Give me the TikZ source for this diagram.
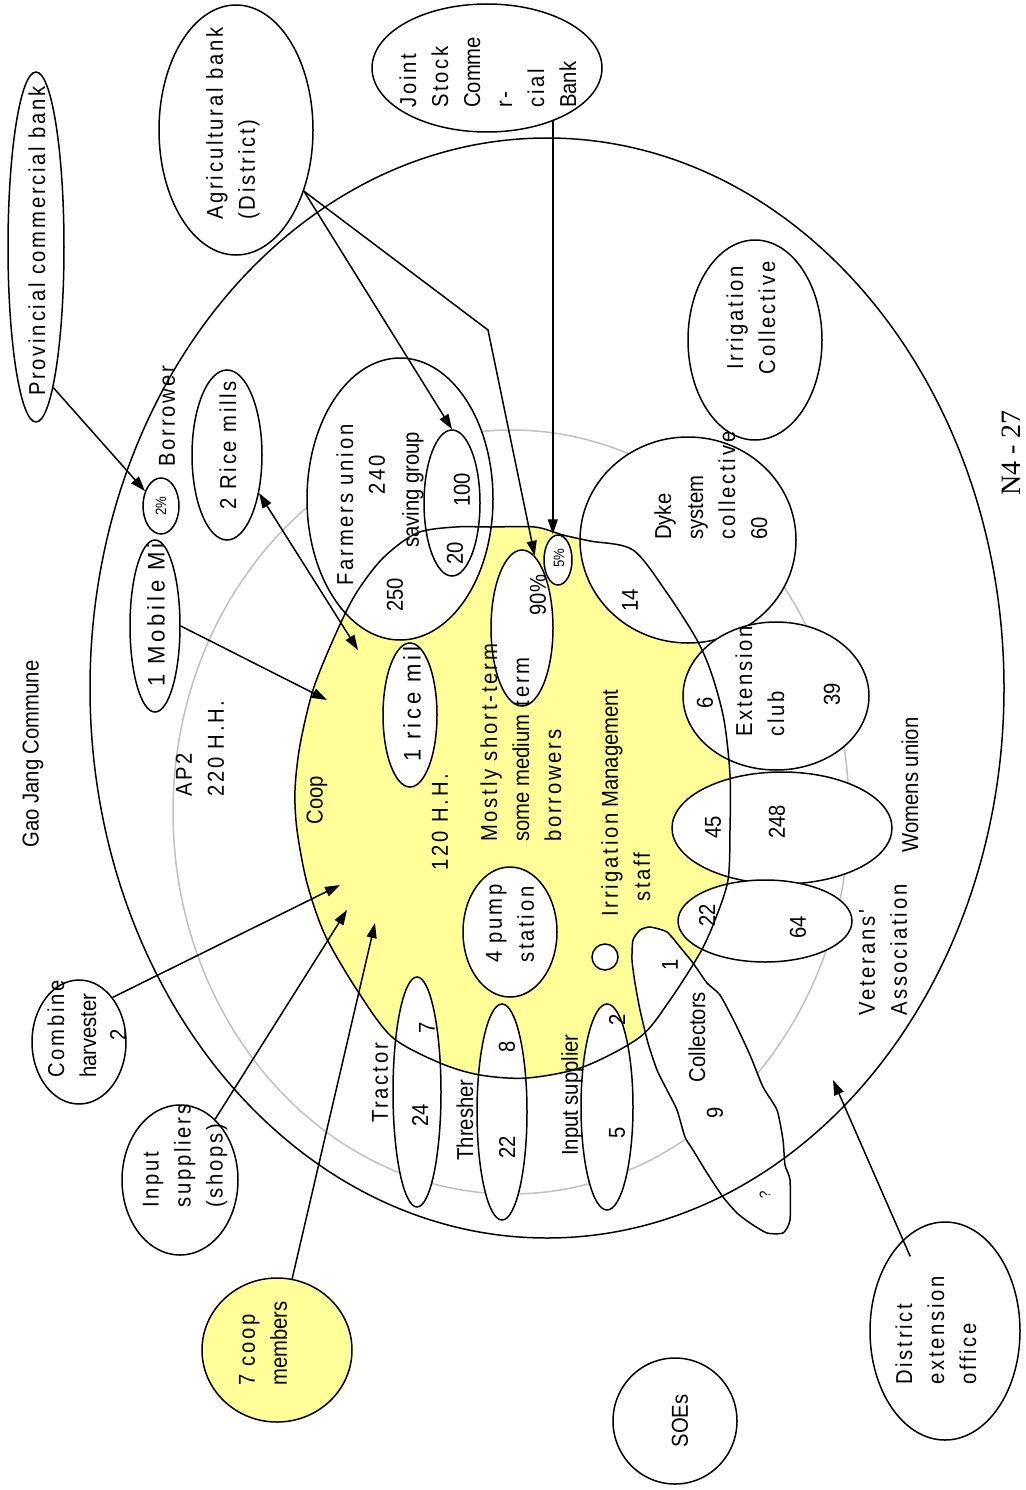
\documentclass[tikz,border=0pt]{standalone}
\usepackage{fontspec}
\setmainfont{Liberation Sans}[FakeStretch=0.88]
\newfontfamily\spacedf{Liberation Sans}[FakeStretch=0.88, LetterSpace=12]
\newfontfamily\widef{Liberation Sans}[FakeStretch=0.92, LetterSpace=16]
\newfontfamily\plainf{Liberation Sans}[FakeStretch=0.88]
\newfontfamily\serift{Liberation Serif}
\usetikzlibrary{arrows.meta,shapes.geometric,calc}
\definecolor{coopyellow}{RGB}{255,255,153}
\definecolor{apgray}{RGB}{192,192,192}

\tikzset{
  ell/.style={ellipse, draw, line width=1.5pt, fill=white, inner sep=0pt},
  arr/.style={line width=1.5pt, -{Triangle[length=15pt,width=10pt]}},
  dbl/.style={line width=1.5pt, {Triangle[length=15pt,width=10pt]}-{Triangle[length=15pt,width=10pt]}},
  txt/.style={rotate=90, inner sep=0pt, font=\fontsize{23}{32}\selectfont\plainf},
  stxt/.style={rotate=90, inner sep=0pt, font=\fontsize{23}{32}\selectfont\spacedf},
  wtxt/.style={rotate=90, inner sep=0pt, font=\fontsize{24}{32}\selectfont\widef},
  small/.style={rotate=90, inner sep=0pt, font=\fontsize{15}{17}\selectfont\plainf},
}

% outline of the cooperative area
\def\coopcoords{(455,527) (490,527) (535,527) (563,535) (590,541) (633,550)
  (667,593) (697,640) (712,675) (724,720) (730,775) (730,830) (728,880)
  (715,920) (700,953) (670,1000) (640,1037) (583,1067) (527,1078) (480,1075)
  (440,1063) (392,1037) (357,990) (325,935) (307,883) (297,830) (295,790)
  (300,745) (313,690) (333,640) (355,595) (383,558) (417,533)}

\begin{document}
\begin{tikzpicture}[x=1pt,y=-1pt]
\useasboundingbox (0,0) rectangle (1025,1490);

% AP2 boundary
\draw[apgray, line width=1.5pt] (511,812) ellipse [x radius=338, y radius=382];

% cooperative area (fill first, outline later)
\fill[coopyellow] plot[smooth cycle, tension=0.5] coordinates {\coopcoords};

% groups inside the commune
\node[ell, minimum width=134pt, minimum height=200pt] (ic) at (755,340) {};
\node[ell, minimum width=186pt, minimum height=282pt] (fu) at (400,499) {};
\node[ell, minimum width=56pt, minimum height=146pt] (sg) at (452,503) {};
\node[ell, minimum width=54pt, minimum height=144pt] (rim) at (410,715) {};
\node[ell, minimum width=62pt, minimum height=156pt] (ninety) at (522,628) {};
\node[ell, minimum width=28pt, minimum height=50pt] (fivep) at (558,560) {};
\node[ell, minimum width=216pt, minimum height=206pt] (dyke) at (688,540) {};
\node[ell, minimum width=186pt, minimum height=148pt] (ext) at (776,696) {};
\node[ell, minimum width=220pt, minimum height=112pt] (wu) at (782,828) {};
\node[ell, minimum width=174pt, minimum height=82pt] (va) at (765,921) {};
\node[ell, minimum width=94pt, minimum height=130pt] (pump) at (510,932) {};
\node[ell, minimum width=26pt, minimum height=26pt] (dot) at (605,957) {};
\node[ell, minimum width=48pt, minimum height=230pt] (tr) at (417,1092) {};
\node[ell, minimum width=50pt, minimum height=216pt] (th) at (502,1112) {};
\node[ell, minimum width=52pt, minimum height=206pt] (isp) at (607,1107) {};
\node[ell, minimum width=70pt, minimum height=170pt] (rm) at (227,455) {};
\node[ell, minimum width=50pt, minimum height=172pt] (mm) at (155,626) {};

% collectors
\draw[line width=1.5pt, fill=white] plot[smooth cycle, tension=0.35] coordinates {
  (640,930) (650,927) (667,932) (680,947) (693,963) (707,983) (720,995)
  (735,1023) (750,1055) (763,1087) (777,1110) (783,1140) (785,1165)
  (790,1180) (790,1220) (783,1233) (767,1233) (750,1223) (737,1213)
  (723,1197) (707,1173) (693,1150) (685,1137) (677,1110) (667,1090)
  (657,1070) (648,1043) (640,1010) (635,983) (632,960) (633,940)};

% mill labels cut by their ellipses
\begin{scope}
  \clip (155,626) ellipse [x radius=25, y radius=86];
  \node[wtxt, anchor=west] (tMm) at (156,687) {1 Mobile Mill};
\end{scope}
\begin{scope}
  \clip (410,715) ellipse [x radius=27, y radius=72];
  \node[wtxt, anchor=west] (tRim) at (412,762) {1 rice mill};
\end{scope}
\node[ell, minimum width=36pt, minimum height=56pt] (pct) at (161,506) {};

% cooperative outline
\draw[line width=1.5pt] plot[smooth cycle, tension=0.5] coordinates {\coopcoords};

% commune boundary
\draw[line width=1.5pt] (547,688) ellipse [x radius=457, y radius=550];

% actors outside the commune
\node[ell, minimum width=56pt, minimum height=350pt] (pcb) at (36,247) {};
\node[ell, minimum width=154pt, minimum height=250pt] (agb) at (236,130) {};
\node[ell, minimum width=230pt, minimum height=128pt] (jsb) at (487,68) {};
\node[ell, minimum width=94pt, minimum height=124pt] (ch) at (79,1042) {};
\node[ell, minimum width=116pt, minimum height=150pt] (ins) at (180,1180) {};
\node[ell, minimum width=150pt, minimum height=144pt, fill=coopyellow] (cm) at (277,1350) {};
\node[ell, minimum width=124pt, minimum height=126pt] (soe) at (675,1421) {};
\node[ell, minimum width=150pt, minimum height=218pt] (deo) at (945,1331) {};

% labels
\node[txt] (tGao) at (33,754) {Gao Jang Commune};
\node[stxt] (tPcb) at (37,241) {Provincial commercial bank};
\node[stxt, anchor=west, align=left] (tAgb) at (233,220) {Agricultural bank\\(District)};
\node[stxt, anchor=west, align=left] (tJsb) at (488,108) {Joint\\Stock\\{\plainf Comme}\\r-\\cial\\{\plainf Bank}};
\node[stxt, align=center] (tIc) at (751,318) {Irrigation\\Collective};
\node[stxt] (tBor) at (167,416) {Borrower};
\node[stxt] (tRm) at (228,445) {2 Rice mills};
\node[small] (tPct) at (161,506) {2\%};
\node[stxt, anchor=west, align=left] (tAp) at (200,797) {AP2\\220 H.H.};
\node[txt] (tCoop) at (317,800) {Coop};
\node[stxt] (tFu) at (345,505) {Farmers union};
\node[stxt] (tFu2) at (377,475) {240};
\node[txt] (tSg) at (413,490) {saving group};
\node[txt] (tFu3) at (395,595) {250};
\node[txt] (tSg1) at (462,490) {100};
\node[txt] (tSg2) at (455,553) {20};
\node[stxt] (tHh) at (440,822) {120 H.H.};
\node[stxt, anchor=west, align=left] (tMost) at (521,842) {Mostly short-term\\{\plainf some medium} term\\borrowers};
\node[txt] (tNinety) at (538,595) {90\%};
\node[small] (tFive) at (559,558) {5\%};
\node[txt, anchor=west, align=left] (tDyke) at (711,540) {Dyke\\system\\{\spacedf collective}\\60};
\node[txt] (tDyke2) at (630,600) {14};
\node[stxt, anchor=west, align=left] (tExt) at (760,737) {Extension\\club};
\node[txt] (tExt1) at (705,703) {6};
\node[txt] (tExt2) at (832,694) {39};
\node[txt] (tWu1) at (713,827) {45};
\node[txt] (tWu2) at (777,822) {248};
\node[txt] (tVa1) at (707,915) {22};
\node[txt] (tVa2) at (798,927) {64};
\node[txt] (tWu) at (910,785) {Womens union};
\node[stxt, anchor=west, align=left, fill=white, inner sep=1pt] (tVa) at (883,1017) {Veterans'\\Association};
\node[txt, anchor=west] (tIm) at (612,917) {{\spacedf Irrigation} Management};
\node[stxt] (tIm2) at (642,877) {staff};
\node[stxt, anchor=west, align=left] (tPump) at (510,963) {4 pump\\station};
\node[stxt] (tTr) at (380,1083) {Tractor};
\node[txt] (tTr1) at (427,1028) {7};
\node[txt] (tTr2) at (420,1115) {24};
\node[txt] (tTh) at (465,1120) {Thresher};
\node[txt] (tTh1) at (507,1047) {8};
\node[txt] (tTh2) at (507,1147) {22};
\node[txt] (tIsp) at (572,1095) {Input supplier};
\node[txt] (tIsp1) at (617,1020) {2};
\node[txt] (tIsp2) at (617,1133) {5};
\node[txt] (tCol) at (697,1037) {Collectors};
\node[txt] (tCol1) at (670,965) {1};
\node[txt] (tCol2) at (715,1113) {9};
\node[small] (tCol3) at (765,1195) {?};
\node[stxt, anchor=west, align=left] (tCh) at (72,1078) {Combine\\{\plainf harvester}};
\node[txt] (tCh2) at (118,1035) {2};
\node[stxt, anchor=west, align=left] (tIns) at (185,1208) {Input\\suppliers\\(shops)};
\node[stxt, anchor=west, align=left] (tCm) at (263,1386) {7 coop\\{\plainf members}};
\node[txt] (tSoe) at (680,1421) {SOEs};
\node[stxt, anchor=west, align=left] (tDeo) at (936,1385) {District\\extension\\office};
\node[rotate=90, anchor=base, inner sep=0pt, font=\fontsize{28}{32}\selectfont\serift] (tN4) at (1020,453) {N4 - 27};

% arrow targets inside the cooperative / commune
\coordinate (tgMm) at (327,700);
\coordinate (tgRm) at (358,650);
\coordinate (tgCh) at (340,885);
\coordinate (tgIns) at (347,910);
\coordinate (tgCm) at (375,923);
\coordinate (tgDeo) at (833,1080);
\coordinate (bend) at (488,330);

% connectors
\draw[arr] (pcb.-83) -- (pct.137);
\draw[arr] (agb.-42) -- (sg.north);
\draw[arr] (agb.-42) -- (bend) -- (ninety.80);
\draw[arr] (jsb.-39) -- (jsb.-39 |- fivep.north);
\draw[arr] (mm.east) -- (tgMm);
\draw[dbl] (rm.-50) -- (tgRm);
\draw[arr] (ch.53) -- (tgCh);
\draw[arr] (ins.60) -- (tgIns);
\draw[arr] (cm.78) -- (tgCm);
\draw[arr] ($(deo.center)!0.82!(deo.115)$) -- (tgDeo);
\end{tikzpicture}
\end{document}
